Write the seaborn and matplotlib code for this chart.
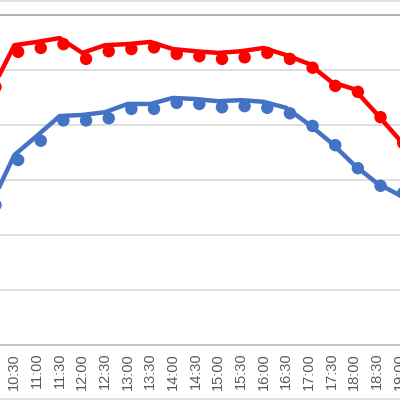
import numpy as np
import pandas as pd
import seaborn as sns
import matplotlib.pyplot as plt
from matplotlib.lines import Line2D
from matplotlib.ticker import MultipleLocator, FuncFormatter

# half-hour slots 10:00 .. 19:00
times = ["10:00", "10:30", "11:00", "11:30", "12:00", "12:30", "13:00", "13:30",
         "14:00", "14:30", "15:00", "15:30", "16:00", "16:30", "17:00", "17:30",
         "18:00", "18:30", "19:00"]
# dots are logged 5 minutes after each slot
dot_times = ["10:05", "10:35", "11:05", "11:35", "12:05", "12:35", "13:05", "13:35",
             "14:05", "14:35", "15:05", "15:35", "16:05", "16:35", "17:05", "17:35",
             "18:05", "18:35", "19:05"]

red_line = [463, 545, 551, 558, 531, 545, 547, 551, 538, 534, 531, 534, 540, 527,
            511, 478, 465, 420, 373]
red_dots = [469, 533, 540, 547, 520, 534, 538, 541, 529, 525, 520, 523, 531, 520,
            504, 471, 460, 414, 367]
blue_line = [258, 345, 380, 416, 418, 423, 438, 438, 449, 447, 443, 445, 442, 431,
             401, 367, 327, 294, 272]
blue_dots = [254, 336, 371, 408, 408, 412, 429, 429, 440, 438, 432, 434, 431, 421,
             398, 363, 321, 289, 276]


def to_hours(t):
    h, m = t.split(":")
    return int(h) + int(m) / 60


lines = pd.DataFrame({"h": [to_hours(t) for t in times],
                      "red": red_line, "blue": blue_line})
dots = pd.DataFrame({"h": [to_hours(t) for t in dot_times],
                     "red": red_dots, "blue": blue_dots})

sns.set_style("white")
plt.rcParams["font.family"] = ["Liberation Sans", "DejaVu Sans"]

RED = "#FF0000"
BLUE = "#4472C4"

fig = plt.figure(figsize=(4, 4), dpi=100)
ax = fig.add_axes([0, 0.13875, 1, 0.82375])

sns.lineplot(data=lines, x="h", y="red", color=RED, linewidth=3.2, ax=ax, zorder=3)
sns.lineplot(data=lines, x="h", y="blue", color=BLUE, linewidth=3.2, ax=ax, zorder=3)
sns.scatterplot(data=dots, x="h", y="red", color=RED, s=80, edgecolor="none", ax=ax, zorder=4)
sns.scatterplot(data=dots, x="h", y="blue", color=BLUE, s=80, edgecolor="none", ax=ax, zorder=4)

ax.set_xlim(10.183, 19.013)
ax.set_ylim(0, 600)
ax.set_xlabel("")
ax.set_ylabel("")

ax.xaxis.set_major_locator(MultipleLocator(0.5))
ax.xaxis.set_minor_locator(MultipleLocator(1.0))
ax.xaxis.set_major_formatter(FuncFormatter(
    lambda v, p: f"{int(v)}:{int(round((v % 1) * 60)):02d}"))
ax.tick_params(axis="x", which="major", direction="in", length=3, width=0.8,
               color="#BFBFBF", labelsize=10.5, labelcolor="#595959",
               labelrotation=90, pad=6)
ax.tick_params(axis="x", which="minor", length=0)
ax.yaxis.set_major_locator(MultipleLocator(100))
ax.tick_params(axis="y", left=False, labelleft=False)

ax.grid(False)
ax.grid(axis="x", which="minor", color="#D9D9D9", linewidth=1.2)
ax.grid(axis="y", which="major", color="#D9D9D9", linewidth=1.2)
ax.set_axisbelow(True)

for s in ["left", "right"]:
    ax.spines[s].set_visible(False)
ax.spines["top"].set_color("#A6A6A6")
ax.spines["top"].set_linewidth(1.2)
ax.spines["bottom"].set_color("#BFBFBF")
ax.spines["bottom"].set_linewidth(1.2)

# chart frame edges
fig.add_artist(Line2D([0, 1], [0.9985, 0.9985], color="#D9D9D9", linewidth=1.2))
fig.add_artist(Line2D([0, 1], [0.0025, 0.0025], color="#D9D9D9", linewidth=1.2))

fig.savefig("out.png", dpi=100)
